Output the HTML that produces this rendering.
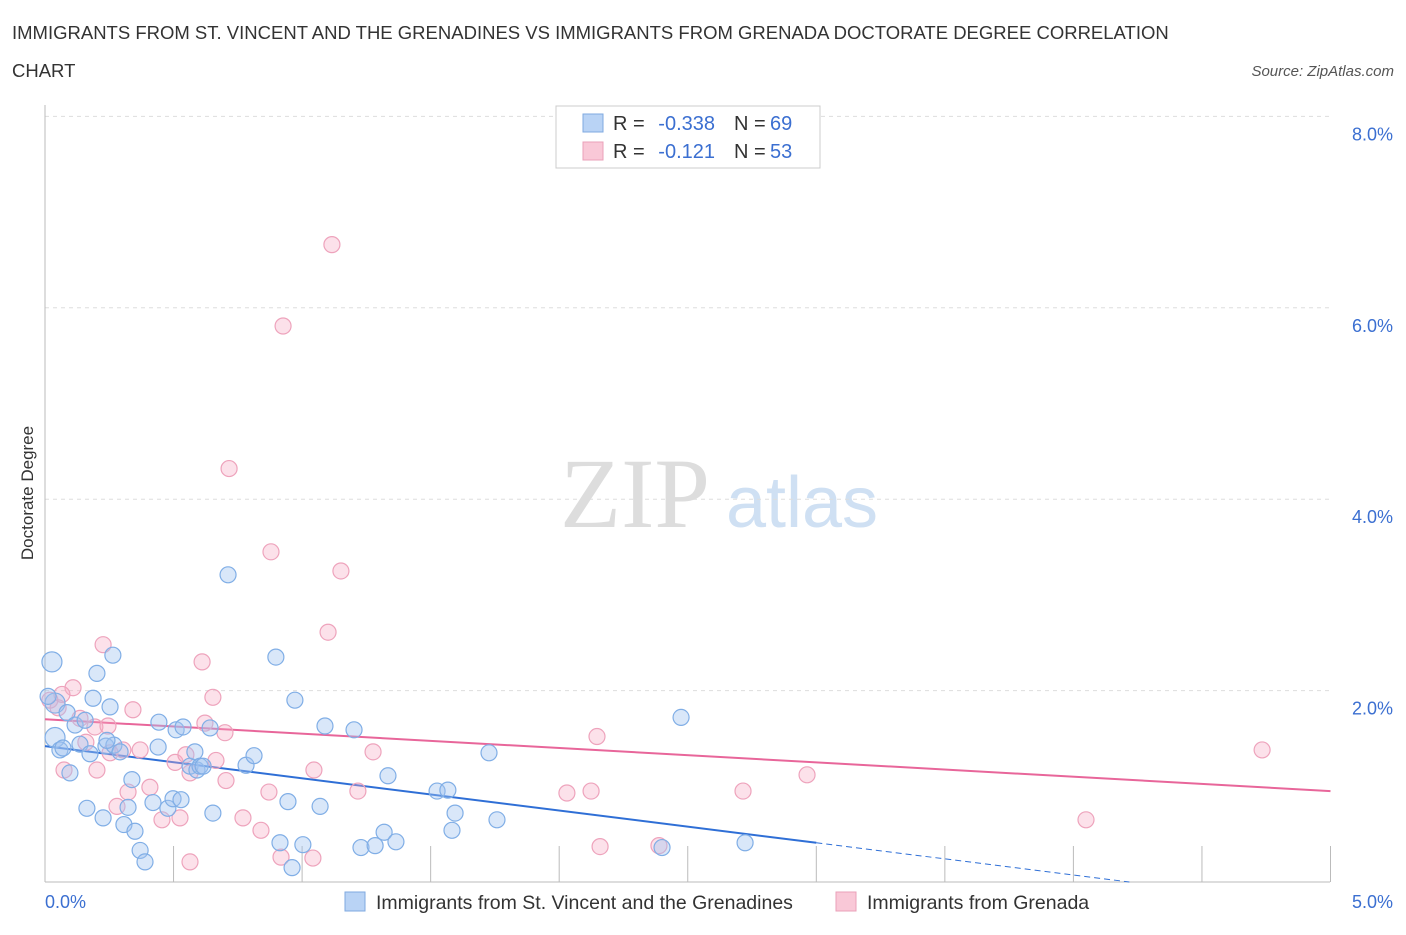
<!DOCTYPE html>
<html><head><meta charset="utf-8"><style>
body{margin:0;background:#fff;font-family:"Liberation Sans",sans-serif;}
</style></head><body>
<svg id="chart" width="1406" height="930" xmlns="http://www.w3.org/2000/svg" font-family="Liberation Sans, sans-serif">
<text x="12" y="39" font-size="18.5" fill="#333">IMMIGRANTS FROM ST. VINCENT AND THE GRENADINES VS IMMIGRANTS FROM GRENADA DOCTORATE DEGREE CORRELATION</text>
<text x="12" y="77" font-size="18.5" fill="#333">CHART</text>
<text x="1394" y="76" font-size="15" fill="#555" text-anchor="end" font-style="italic">Source: ZipAtlas.com</text>
<text transform="translate(33,493) rotate(-90)" font-size="17" fill="#333" text-anchor="middle">Doctorate Degree</text>
<g>
<text x="635" y="527" font-size="100" fill="#ddd" text-anchor="middle" style="font-family:'Liberation Serif',serif">ZIP</text>
<text x="802" y="527" font-size="72" fill="#cfe0f3" text-anchor="middle">atlas</text>
</g>
<g id="grid"></g><g id="lines"></g><g id="points"></g>
<g>
<rect x="556" y="106" width="264" height="62" fill="#fff" stroke="#ccc"/>
<rect x="583" y="114" width="20" height="18" fill="#b9d3f5" stroke="#7fa9e0"/>
<rect x="583" y="142" width="20" height="18" fill="#f9c8d7" stroke="#eaa0b8"/>
<text x="613" y="130" font-size="20" fill="#333">R =</text>
<text x="715" y="130" font-size="20" fill="#3b6fd1" text-anchor="end">-0.338</text>
<text x="734" y="130" font-size="20" fill="#333">N =</text>
<text x="770" y="130" font-size="20" fill="#3b6fd1">69</text>
<text x="613" y="158" font-size="20" fill="#333">R =</text>
<text x="715" y="158" font-size="20" fill="#3b6fd1" text-anchor="end">-0.121</text>
<text x="734" y="158" font-size="20" fill="#333">N =</text>
<text x="770" y="158" font-size="20" fill="#3b6fd1">53</text>
</g>
<g>
<rect x="345" y="892" width="20" height="19" fill="#b9d3f5" stroke="#7fa9e0"/>
<text x="376" y="909" font-size="19.5" fill="#333">Immigrants from St. Vincent and the Grenadines</text>
<rect x="836" y="892" width="20" height="19" fill="#f9c8d7" stroke="#eaa0b8"/>
<text x="867" y="909" font-size="19.5" fill="#333">Immigrants from Grenada</text>
</g>
</svg>
<script>
const blueX=[.027,.039,.039,.058,.070,.097,.086,.117,.136,.156,.175,.187,.202,.226,.163,.253,.264,.237,.268,.292,.307,.323,.338,.350,.370,.389,.420,.440,.443,.478,.498,.510,.529,.537,.564,.583,.591,.603,.615,.642,.653,.712,.782,.813,.898,.914,.945,.961,.972,1.003,1.070,1.089,1.202,1.229,1.284,1.319,1.334,1.365,1.525,1.567,1.583,1.595,1.727,1.758,2.474,2.723,2.400,.012,.241];
const blueY=[2.30,1.87,1.51,1.38,1.40,1.14,1.77,1.64,1.44,1.69,1.34,1.92,2.18,.67,.77,1.83,2.37,1.42,1.43,1.36,.60,.78,1.07,.53,.33,.21,.83,1.41,1.67,.77,.87,1.59,.86,1.62,1.21,1.36,1.17,1.21,1.21,1.61,.72,3.21,1.22,1.32,2.35,.41,.84,.15,1.90,.39,.79,1.63,1.59,.36,.38,.52,1.11,.42,.95,.96,.54,.72,1.35,.65,1.72,.41,.36,1.94,1.48];
const pinkX=[1.116,.926,.716,.879,1.151,1.101,.226,.611,.653,.109,.066,.019,.051,.136,.194,.245,.342,.159,.303,.370,.506,.548,.564,.622,.665,.704,.525,.408,.323,.280,.455,.770,.840,.871,.918,1.042,1.046,1.217,1.276,.700,2.147,2.030,2.124,2.159,2.388,2.715,2.964,4.049,4.734,.074,.202,.253,.564];
const pinkY=[6.66,5.81,4.32,3.45,3.25,2.61,2.48,2.30,1.93,2.03,1.96,1.90,1.82,1.71,1.62,1.63,1.80,1.46,1.38,1.38,1.25,1.33,1.14,1.66,1.27,1.06,.67,.99,.94,.79,.65,.67,.54,.94,.26,.25,1.17,.95,1.36,1.56,1.52,.93,.95,.37,.38,.95,1.12,.65,1.38,1.17,1.17,1.35,.21];
const blueTrend=[1.42,0.41];
const pinkTrend=[1.70,0.95];
const yTicks=[2,4,6,8];
const xTickLabels=["0.0%","5.0%"];
const NS="http://www.w3.org/2000/svg";
const sx=v=>45+v*257.1, sy=v=>882-v*95.7;
function mk(tag,attrs,parent){const e=document.createElementNS(NS,tag);for(const k in attrs)e.setAttribute(k,attrs[k]);parent.appendChild(e);return e;}
const grid=document.getElementById('grid');
yTicks.forEach(t=>{
 const l=mk('line',{x1:45,x2:1330,y1:sy(t),y2:sy(t),stroke:'#ddd','stroke-dasharray':'4,4'},grid);
 
 
 const tx=mk('text',{x:1393,y:sy(t)+24,'font-size':18,fill:'#3b6fd1','text-anchor':'end'},grid);
 tx.textContent=t.toFixed(1)+'%';
 
 
});
const ax=mk('line',{x1:45,x2:1330,y1:882,y2:882,stroke:'#bbb'},grid);


const ay=mk('line',{x1:45,x2:45,y1:105,y2:882,stroke:'#bbb'},grid);


for(let i=0;i<=10;i++){const t=mk('line',{x1:sx(i*0.5),x2:sx(i*0.5),y1:846,y2:882,stroke:'#bbb'},grid);
 
 }
[[0,'start',45],[5,'end',1393]].forEach((d,i)=>{const t=mk('text',{x:d[2],y:908,'font-size':18,fill:'#3b6fd1','text-anchor':d[1]},grid);t.textContent=xTickLabels[i];
 
 });
const lines=document.getElementById('lines');
const bl=mk('line',{x1:sx(0),y1:sy(blueTrend[0]),x2:sx(3),y2:sy(blueTrend[1]),stroke:'#2f6fd6','stroke-width':2},lines);


const slope=(blueTrend[1]-blueTrend[0])/3, xz=-blueTrend[0]/slope;
const bd=mk('line',{x1:sx(3),y1:sy(blueTrend[1]),x2:sx(xz),y2:sy(0),stroke:'#2f6fd6','stroke-width':1,'stroke-dasharray':'6,4'},lines);


const pl=mk('line',{x1:sx(0),y1:sy(pinkTrend[0]),x2:sx(5),y2:sy(pinkTrend[1]),stroke:'#e8669a','stroke-width':2},lines);


const pts=document.getElementById('points');
pinkX.forEach((x,i)=>{const c=mk('circle',{cx:sx(x),cy:sy(pinkY[i]),r:8,fill:'rgba(246,170,195,0.35)',stroke:'#eea3bc','stroke-width':1.2},pts);
 
 });
blueX.forEach((x,i)=>{const c=mk('circle',{cx:sx(x),cy:sy(blueY[i]),r:i<3?10:8,fill:'rgba(160,195,240,0.4)',stroke:'#80aee6','stroke-width':1.2},pts);
 
 });
</script>
</body></html>
